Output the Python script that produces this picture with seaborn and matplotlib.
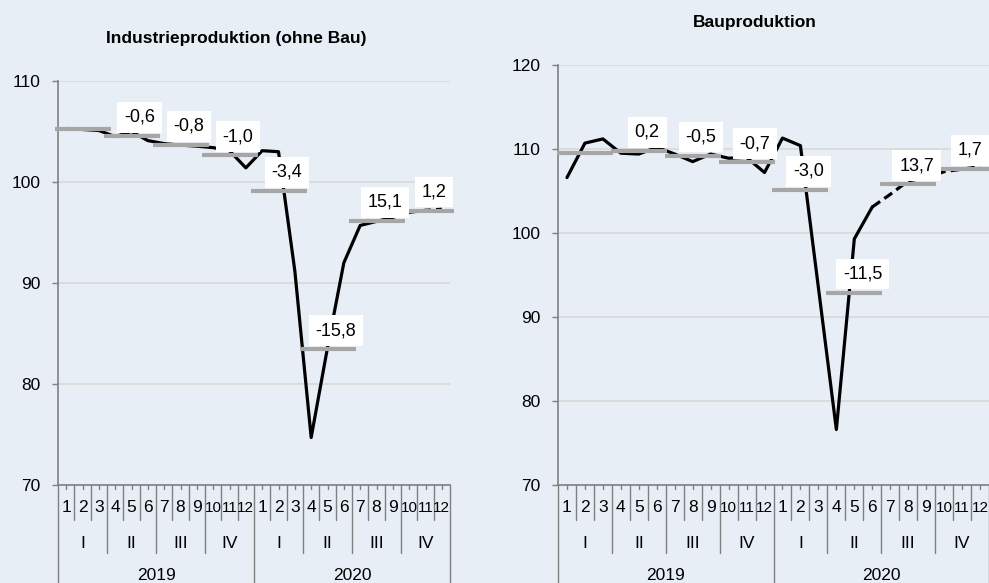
import matplotlib
matplotlib.use("Agg")
import matplotlib.pyplot as plt
import matplotlib.transforms as mtransforms
from matplotlib import font_manager as fm
import seaborn as sns
import pandas as pd

# ---------------- data ----------------
months = ["1", "2", "3", "4", "5", "6", "7", "8", "9", "10", "11", "12"] * 2
quarters = ["I", "II", "III", "IV"] * 2
years = ["2019", "2020"]

ind_monthly = [105.3, 105.2, 105.1, 104.5, 105.0, 104.1,
               103.8, 103.65, 103.55, 103.4, 103.1, 101.4,
               103.1, 103.0, 91.2, 74.7, 83.6, 92.0,
               95.7, 96.1, 96.5, 97.0, 97.2, 97.3]
ind_quarterly = [105.2, 104.55, 103.66, 102.64, 99.1, 83.43, 96.14, 97.16]
ind_labels = ["", "-0,6", "-0,8", "-1,0", "-3,4", "-15,8", "15,1", "1,2"]

bau_monthly = [106.6, 110.7, 111.2, 109.5, 109.4, 110.2,
               109.4, 108.5, 109.4, 108.9, 109.0, 107.2,
               111.3, 110.4, 93.5, 76.6, 99.3, 103.1,
               104.6, 106.2, 106.6, 107.3, 107.6, 107.9]
bau_quarterly = [109.5, 109.75, 109.2, 108.4, 105.1, 92.9, 105.8, 107.6]
bau_labels = ["", "0,2", "-0,5", "-0,7", "-3,0", "-11,5", "13,7", "1,7"]

# ---------------- style ----------------
BG = "#e8eef6"
GRID = "#d9d9d9"
AXC = "#808080"
BARC = "#a6a6a6"

sns.set_theme(style="white")
plt.rcParams["font.family"] = ["Liberation Sans", "DejaVu Sans"]
names = {f.name for f in fm.fontManager.ttflist}
MONTH_FONT = ["Liberation Sans Narrow", "Liberation Sans", "DejaVu Sans"] if "Liberation Sans Narrow" in names else ["Liberation Sans", "DejaVu Sans"]

W, H = 989, 583
fig = plt.figure(figsize=(W / 100, H / 100), dpi=100, facecolor=BG)


def fy(px):
    return (H - px) / H


def draw_panel(ax, monthly, quarterly, labels, ylim, dash_from, title, title_xy):
    ax.set_facecolor(BG)
    idx = list(range(len(monthly)))
    df = pd.DataFrame({"m": idx, "v": monthly})
    solid = df[df.m <= dash_from]
    dashed = df[df.m >= dash_from]
    sns.lineplot(data=solid, x="m", y="v", color="black", lw=2.3, ax=ax, zorder=2)
    sns.lineplot(data=dashed, x="m", y="v", color="black", lw=2.3, ax=ax, zorder=2,
                 linestyle=(0, (3, 1.6)))
    qpos = [3 * q + 1 for q in range(len(quarterly))]
    ax.plot(qpos, quarterly, linestyle="none", marker="_", markersize=41,
            markeredgewidth=3.0, color=BARC, zorder=3, clip_on=False)
    for x, v, lbl in zip(qpos, quarterly, labels):
        if lbl:
            ax.annotate(lbl, (x, v), xytext=(6, 13.5), textcoords="offset points",
                        ha="center", va="center", fontsize=13, color="black",
                        bbox=dict(boxstyle="square,pad=0.38", fc="white", ec="none"),
                        zorder=5, annotation_clip=False)

    ax.set_xlim(-0.5, len(monthly) - 0.5)
    ax.set_ylim(*ylim)
    ax.set_yticks(range(ylim[0], ylim[1] + 1, 10))
    ax.yaxis.grid(True, color=GRID, lw=1.3)
    ax.xaxis.grid(False)
    ax.set_axisbelow(True)
    ax.set_xticks([])
    ax.set_xlabel("")
    ax.set_ylabel("")
    for s in ["top", "right"]:
        ax.spines[s].set_visible(False)
    for s in ["left", "bottom"]:
        ax.spines[s].set_color(AXC)
        ax.spines[s].set_linewidth(1.2)
    ax.tick_params(axis="y", length=4.3, width=1, color=AXC, pad=8.5,
                   labelsize=12.5, labelcolor="black", left=True)

    # multi-level category axis
    tr = mtransforms.blended_transform_factory(ax.transData, fig.transFigure)
    n = len(monthly)
    for k in range(n + 1):
        x = k - 0.5
        if k % 12 == 0:
            bottom = H
        elif k % 3 == 0:
            bottom = 553
        else:
            bottom = 520
        ax.add_line(plt.Line2D([x, x], [fy(485), fy(bottom)], transform=tr,
                               color=AXC, lw=1, clip_on=False))
    for k in range(n):
        ax.add_line(plt.Line2D([k, k], [fy(485), fy(489)], transform=tr,
                               color=AXC, lw=1, clip_on=False))
        fs = 12.5 if len(months[k]) == 1 else 11
        ax.text(k, fy(508), months[k], transform=tr, ha="center", va="center",
                fontsize=fs, family=MONTH_FONT, color="black")
    for q in range(n // 3):
        ax.text(3 * q + 1, fy(543), quarters[q], transform=tr, ha="center",
                va="center", fontsize=12.5, color="black")
    for yi in range(n // 12):
        ax.text(12 * yi + 5.5, fy(576), years[yi], transform=tr, ha="center",
                va="center", fontsize=12.5, color="black")

    fig.text(title_xy[0] / W, fy(title_xy[1]), title, ha="center", va="center",
             fontsize=12.5, fontweight="bold", color="black")


axL = fig.add_axes([58 / W, fy(485), 392 / W, (485 - 81) / H])
axR = fig.add_axes([558 / W, fy(485), 431 / W, (485 - 65) / H])

draw_panel(axL, ind_monthly, ind_quarterly, ind_labels, (70, 110), 20,
           "Industrieproduktion (ohne Bau)", (236, 38))
draw_panel(axR, bau_monthly, bau_quarterly, bau_labels, (70, 120), 17,
           "Bauproduktion", (755, 23))

fig.savefig("out.png", dpi=100, facecolor=BG)
